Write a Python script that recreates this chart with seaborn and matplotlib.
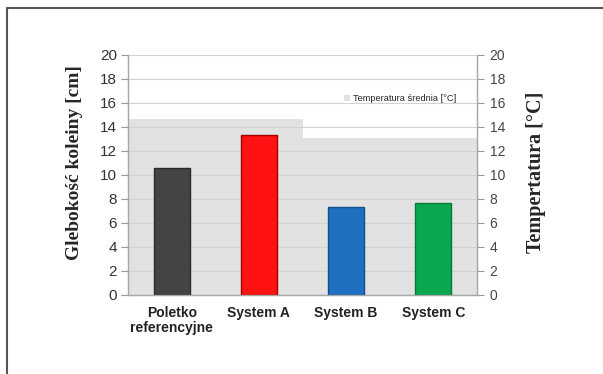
import matplotlib
matplotlib.use("Agg")
import matplotlib.pyplot as plt
import seaborn as sns
from matplotlib.lines import Line2D

# --- data ---
categories = ["Poletko\nreferencyjne", "System A", "System B", "System C"]
rut_depth = [10.55, 13.3, 7.35, 7.7]          # cm
mean_temp = [14.7, 14.7, 13.1, 13.1]          # °C
bar_colors = ["#444444", "#fe1212", "#1f70c0", "#0aa84e"]
edge_colors = ["#2a2a2a", "#a00000", "#104f8a", "#067a37"]
y_ticks = list(range(0, 21, 2))

sns.set_style("white")
plt.rcParams["font.family"] = ["Liberation Sans", "DejaVu Sans"]

fig = plt.figure(figsize=(6.03, 3.74), dpi=100)
ax = fig.add_axes([128 / 603, 1 - 295 / 374, 349 / 603, 240 / 374])
ax2 = ax.twinx()

# temperature as full-width background bars on the secondary axis
sns.barplot(x=categories, y=mean_temp, ax=ax2, color="#e2e2e2", width=1.0,
            saturation=1, linewidth=0, label="Temperatura średnia [°C]")

# rut depth bars on the primary axis
sns.barplot(x=categories, y=rut_depth, ax=ax, hue=categories, palette=bar_colors,
            width=0.41, saturation=1, legend=False, linewidth=1.0)
for patch, ec in zip(ax.patches, edge_colors):
    patch.set_edgecolor(ec)

ax.set_zorder(ax2.get_zorder() + 1)
ax.patch.set_visible(False)

for a in (ax, ax2):
    a.set_ylim(0, 20)
    a.set_xlim(-0.5, 3.5)
    a.set_yticks(y_ticks)
    a.set_xlabel("")

ax.yaxis.grid(True, color="#d2d2d2", linewidth=0.8)
ax.set_axisbelow(True)

# category ticks between groups, labels in the middle
ax.set_xticks([-0.5, 0.5, 1.5, 2.5, 3.5])
ax.set_xticklabels([])
ax.set_xticks([0, 1, 2, 3], minor=True)
ax.set_xticklabels(categories, minor=True, fontweight="bold", fontsize=10,
                   color="#222222", linespacing=1.1)
ax.tick_params(axis="x", which="major", length=5, color="#999999", direction="out")
ax.tick_params(axis="x", which="minor", length=0, pad=8)
ax.tick_params(axis="y", length=5, color="#999999", labelsize=11, labelcolor="#333333", pad=3)
ax2.tick_params(axis="y", length=5, color="#999999", labelsize=10, labelcolor="#444444", pad=4)
ax2.set_xticks([])

for a in (ax, ax2):
    a.spines["top"].set_visible(False)
    for side in ("left", "right", "bottom"):
        a.spines[side].set_color("#a8a8a8")
        a.spines[side].set_linewidth(0.9)

ax.set_ylabel("Glebokość koleiny [cm]", family=["Liberation Serif", "DejaVu Serif"],
              fontweight="bold", fontsize=14, labelpad=12, y=0.552)
ax2.set_ylabel("Tempertatura [°C]", family=["Liberation Serif", "DejaVu Serif"],
               fontweight="bold", fontsize=14.5, labelpad=15, y=0.51)

leg = ax2.legend(loc="center", bbox_to_anchor=(0.78, 0.817), fontsize=6.7,
                 frameon=False, handlelength=0.6, handleheight=0.6, handletextpad=0.4)

# outer frame lines (left and top) as in the scanned figure
fig.add_artist(Line2D([7 / 603, 7 / 603], [0, 1 - 8 / 374], transform=fig.transFigure,
                      color="#555555", linewidth=1.5))
fig.add_artist(Line2D([7 / 603, 1], [1 - 8 / 374, 1 - 8 / 374], transform=fig.transFigure,
                      color="#555555", linewidth=1.5))

fig.savefig("out.png", dpi=100)
